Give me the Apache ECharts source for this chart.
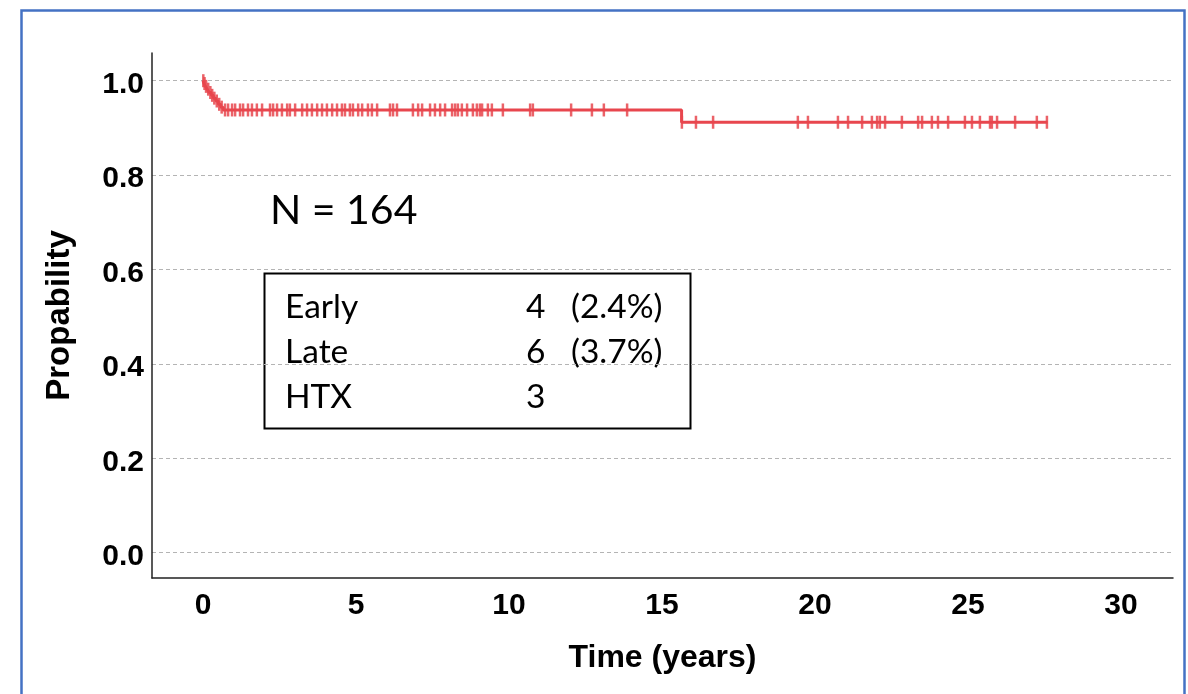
<!DOCTYPE html>
<html>
<head>
<meta charset="utf-8">
<script src="https://cdn.jsdelivr.net/npm/echarts@6/dist/echarts.min.js"></script>
<style>
html,body{margin:0;padding:0;background:#fff;}
#chart{width:1188px;height:694px;}
</style>
</head>
<body>
<div id="chart"></div>
<script>
// Kaplan-Meier step points (time in years, survival probability)
const stepTimes = [0, 0.03, 0.08, 0.14, 0.2, 0.27, 0.34, 0.42, 0.5, 0.58, 0.66, 15.64, 27.6];
const stepSurv  = [1.0, 0.994, 0.988, 0.982, 0.975, 0.969, 0.963, 0.957, 0.950, 0.944, 0.938, 0.912, 0.912];
// Censored observation times (years)
const censorTimes = [
  0.01, 0.05, 0.1, 0.17, 0.24, 0.3, 0.37, 0.45, 0.53, 0.61,
  0.72, 0.82, 0.95, 1.05, 1.21, 1.31, 1.47, 1.60, 1.76, 1.93,
  2.19, 2.29, 2.42, 2.58, 2.75, 2.84, 3.01, 3.24, 3.40, 3.56,
  3.73, 3.89, 4.05, 4.22, 4.38, 4.54, 4.64, 4.80, 4.90, 5.07,
  5.20, 5.39, 5.52, 5.69, 6.11, 6.21, 6.34, 6.86, 7.03, 7.16,
  7.42, 7.58, 7.75, 7.91, 8.14, 8.24, 8.33, 8.46, 8.63, 8.82,
  8.95, 9.05, 9.12, 9.31, 9.44, 9.80, 10.69, 10.78, 12.03, 12.71,
  13.10, 13.86,
  15.65, 16.11, 16.67, 19.44, 19.77, 20.75, 21.08, 21.54, 21.86, 22.03,
  22.12, 22.29, 22.84, 23.37, 23.50, 23.82, 24.02, 24.35, 24.90, 25.13,
  25.39, 25.72, 25.78, 25.95, 26.54, 27.25, 27.58
];
const yTicks = [0.0, 0.2, 0.4, 0.6, 0.8, 1.0];
const xTicks = [0, 5, 10, 15, 20, 25, 30];
const annotationN = 'N = 164';
const tableRows = [
  ['Early', '4', '(2.4%)'],
  ['Late', '6', '(3.7%)'],
  ['HTX', '3', '']
];

function survAt(t) {
  let s = stepSurv[0];
  for (let i = 0; i < stepTimes.length; i++) {
    if (stepTimes[i] <= t) s = stepSurv[i];
  }
  return s;
}

const lineData = stepTimes.map((t, i) => [t, stepSurv[i]]);
const censorData = censorTimes.map(t => [t, survAt(t)]);

const RED = '#e8464e';
const chart = echarts.init(document.getElementById('chart'));

const graphic = [
  { type: 'rect', shape: { x: 21.5, y: 10.5, width: 1163, height: 720 },
    style: { fill: null, stroke: '#4472c4', lineWidth: 2.5 }, z: 100, silent: true },
  { type: 'text', x: 270, y: 211, style: { text: annotationN, font: '41px Lato', fill: '#000', verticalAlign: 'middle' } },
  { type: 'rect', shape: { x: 264.5, y: 273.5, width: 426, height: 155 },
    style: { fill: '#fff', stroke: '#000', lineWidth: 2 } }
];
const colX = [285, 526, 571];
tableRows.forEach((row, r) => {
  row.forEach((cell, c) => {
    if (!cell) return;
    graphic.push({ type: 'text', x: colX[c], y: 307 + r * 45,
      style: { text: cell, font: '33.5px Lato', fill: '#000', verticalAlign: 'middle' } });
  });
});

chart.setOption({
  animation: false,
  backgroundColor: '#fff',
  grid: { left: 152, right: 15, top: 53, bottom: 116, containLabel: false },
  xAxis: {
    type: 'value', min: -1.667, max: 31.7, minInterval: 5, maxInterval: 5,
    name: 'Time (years)', nameLocation: 'middle', nameGap: 64,
    nameTextStyle: { fontFamily: 'Liberation Sans', fontWeight: 'bold', fontSize: 32, color: '#000' },
    axisLine: { show: true, onZero: false, lineStyle: { color: '#222', width: 1.5 } },
    axisTick: { show: false },
    splitLine: { show: false },
    axisLabel: { showMinLabel: false, showMaxLabel: false, margin: 13,
      fontFamily: 'Liberation Sans', fontWeight: 'bold', fontSize: 30, color: '#000',
      formatter: v => xTicks.includes(Math.round(v)) ? String(Math.round(v)) : '' }
  },
  yAxis: {
    type: 'value', min: -0.0536, max: 1.0587, minInterval: 0.2, maxInterval: 0.2,
    name: 'Propability', nameLocation: 'middle', nameGap: 76, nameRotate: 90,
    nameTextStyle: { fontFamily: 'Liberation Sans', fontWeight: 'bold', fontSize: 33, color: '#000' },
    axisLine: { show: true, onZero: false, lineStyle: { color: '#222', width: 1.5 } },
    axisTick: { show: false },
    splitLine: { show: true, showMinLine: false, showMaxLine: false,
      lineStyle: { color: '#b4b4b4', type: [4, 3], width: 1 } },
    axisLabel: { showMinLabel: false, showMaxLabel: false, margin: 8,
      lineHeight: 38, verticalAlign: 'top', padding: [-15, 0, 0, 0],
      fontFamily: 'Liberation Sans', fontWeight: 'bold', fontSize: 30, color: '#000',
      formatter: v => {
        const m = yTicks.find(t => Math.abs(t - v) < 1e-6);
        return m === undefined ? '' : m.toFixed(1);
      } }
  },
  series: [
    { type: 'line', data: lineData, step: 'end', showSymbol: false,
      lineStyle: { color: RED, width: 3 }, z: 3 },
    { type: 'scatter', data: censorData, symbol: 'rect', symbolSize: [2.5, 13],
      itemStyle: { color: RED, opacity: 0.85 }, z: 4 }
  ],
  graphic: graphic
});
</script>
</body>
</html>
